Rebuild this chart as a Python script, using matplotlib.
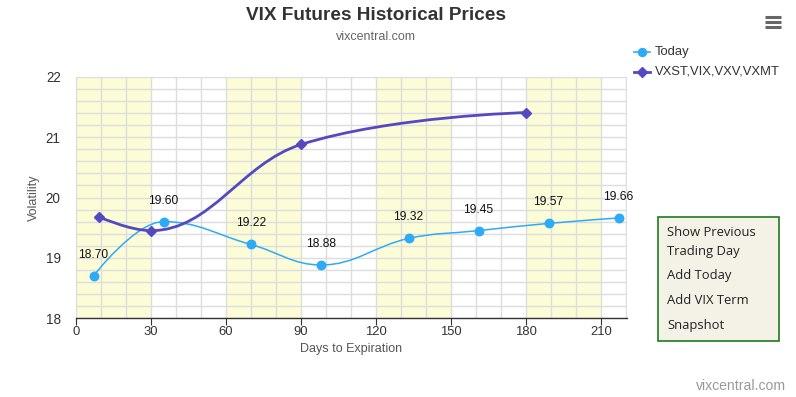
import numpy as np
import matplotlib
matplotlib.use("Agg")
import matplotlib.pyplot as plt
from matplotlib.path import Path
from matplotlib.patches import PathPatch, Rectangle

plt.rcParams['font.family'] = ['Liberation Sans', 'DejaVu Sans']

# ---- data ----
today_days = [7, 35, 70, 98, 133, 161, 189, 217]
today_vals = [18.70, 19.60, 19.22, 18.88, 19.32, 19.45, 19.57, 19.66]
term_days = [9, 30, 90, 180]
term_vals = [19.68, 19.45, 20.88, 21.41]
x_ticks = [0, 30, 60, 90, 120, 150, 180, 210]
y_ticks = [18, 19, 20, 21, 22]
bands = [(0, 30), (60, 90), (120, 150), (180, 210)]

PX = 0.72  # px -> pt at 100 dpi
W, H = 796, 397
fig = plt.figure(figsize=(W / 100, H / 100), dpi=100)
L, R, T, B = 76, 627, 77, 318
ax = fig.add_axes([L / W, 1 - B / H, (R - L) / W, (B - T) / H])
ax.set_xlim(0, 220.4)
ax.set_ylim(18, 22)

# bands
for a, b in bands:
    ax.axvspan(a, b, color='#fcfdd6', zorder=0, lw=0)
# grid
for xv in np.arange(0, 221, 10):
    ax.axvline(xv, color='#dddddd', lw=1, zorder=1)
for yv in np.arange(18, 22.01, 0.2):
    ax.axhline(yv, color='#dddddd', lw=1, zorder=1)

for s in ['top', 'right', 'left']:
    ax.spines[s].set_visible(False)
ax.spines['bottom'].set_color('#333333')
ax.spines['bottom'].set_linewidth(1)
ax.set_xticks(x_ticks)
ax.set_yticks(y_ticks)
ax.tick_params(axis='x', length=5, color='#333333', labelsize=13 * PX, labelcolor='#333333', pad=0.5)
ax.tick_params(axis='y', length=0, labelsize=13.5 * PX, labelcolor='#333333', pad=11)
ax.set_xlabel('Days to Expiration', fontsize=12.5 * PX, color='#555555', labelpad=4)
ax.set_ylabel('Volatility', fontsize=12.5 * PX, color='#555555', labelpad=4)


def hc_spline(xs, ys, smoothing=1.5):
    n = len(xs)
    lc = [None] * n
    rc = [None] * n
    for i in range(1, n - 1):
        px, py = xs[i], ys[i]
        lx, ly = xs[i - 1], ys[i - 1]
        nx, ny = xs[i + 1], ys[i + 1]
        d = smoothing + 1
        lcx = (smoothing * px + lx) / d
        lcy = (smoothing * py + ly) / d
        rcx = (smoothing * px + nx) / d
        rcy = (smoothing * py + ny) / d
        corr = ((rcy - lcy) * (rcx - px)) / (rcx - lcx) + py - rcy
        lcy += corr
        rcy += corr
        if lcy > ly and lcy > py:
            lcy = max(ly, py); rcy = 2 * py - lcy
        elif lcy < ly and lcy < py:
            lcy = min(ly, py); rcy = 2 * py - lcy
        if rcy > ny and rcy > py:
            rcy = max(ny, py); lcy = 2 * py - rcy
        elif rcy < ny and rcy < py:
            rcy = min(ny, py); lcy = 2 * py - rcy
        lc[i] = (lcx, lcy)
        rc[i] = (rcx, rcy)
    verts = [(xs[0], ys[0])]
    codes = [Path.MOVETO]
    for i in range(1, n):
        c1 = rc[i - 1] if rc[i - 1] else (xs[i - 1], ys[i - 1])
        c2 = lc[i] if lc[i] else (xs[i], ys[i])
        verts += [c1, c2, (xs[i], ys[i])]
        codes += [Path.CURVE4] * 3
    return Path(verts, codes)


c_today = '#2eaaf7'
c_term = '#5549c2'
ax.add_patch(PathPatch(hc_spline(today_days, today_vals), fill=False, ec=c_today, lw=1.1, zorder=3))
ax.plot(today_days, today_vals, 'o', color=c_today, ms=8.5 * PX, zorder=4, mec=c_today)
ax.add_patch(PathPatch(hc_spline(term_days, term_vals), fill=False, ec=c_term, lw=2, zorder=3))
ax.plot(term_days, term_vals, 'D', color=c_term, ms=7 * PX, zorder=4)

for xd, v in zip(today_days, today_vals):
    ax.annotate(f'{v:.2f}', (xd, v), xytext=(0, 15 * PX), textcoords='offset points',
                ha='center', va='bottom', fontsize=12 * PX, color='#111111', zorder=5,
                annotation_clip=False)

# title
fig.text(376 / W, 1 - 16 / H, 'VIX Futures Historical Prices', ha='center', va='center',
         fontsize=19 * PX, fontweight='bold', color='#333333')
fig.text(376 / W, 1 - 37 / H, 'vixcentral.com', ha='center', va='center',
         fontsize=12.5 * PX, color='#666666')

# legend
for yy, col, mk, lab, ms in [(52, c_today, 'o', 'Today', 8), (72, c_term, 'D', 'VXST,VIX,VXV,VXMT', 6.5)]:
    fy = 1 - yy / H
    fig.add_artist(plt.Line2D([634 / W, 650 / W], [fy, fy], color=col, lw=2 if mk == 'D' else 1.2,
                              transform=fig.transFigure))
    fig.add_artist(plt.Line2D([642 / W], [fy], marker=mk, color=col, ms=ms * PX, transform=fig.transFigure))
    fig.text(655 / W, fy, lab, ha='left', va='center', fontsize=13 * PX, color='#333333')

# hamburger
for yy in [17, 22, 27]:
    fig.add_artist(plt.Line2D([765 / W, 781 / W], [1 - yy / H] * 2, color='#666666', lw=2.2,
                              solid_capstyle='butt', transform=fig.transFigure))

# button box
fig.add_artist(Rectangle((658 / W, 1 - 341 / H), (779 - 658) / W, (341 - 217) / H,
                         transform=fig.transFigure, fc='#f4f2e6', ec='#1f7a1f', lw=1.2))
for yy, txt in [(233, 'Show Previous'), (252, 'Trading Day'), (276, 'Add Today'),
                (301, 'Add VIX Term'), (325, 'Snapshot')]:
    fig.text(667 / W, 1 - yy / H, txt, ha='left', va='center', fontsize=13 * PX,
             color='#222222', family=['Open Sans', 'DejaVu Sans'])

fig.text(786 / W, 1 - 386 / H, 'vixcentral.com', ha='right', va='center', fontsize=14 * PX,
         color='#999999')

fig.savefig('out.png', dpi=100)
